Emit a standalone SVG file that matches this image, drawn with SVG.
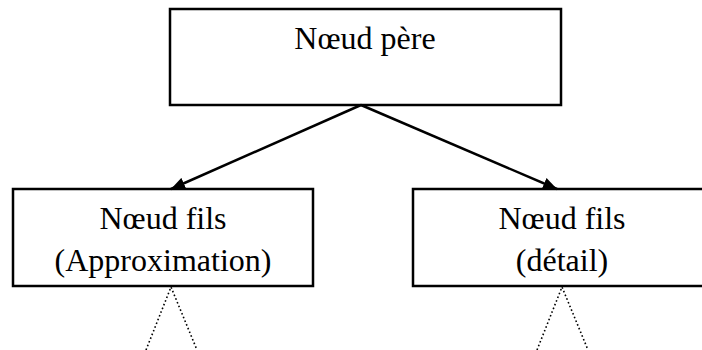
<svg xmlns="http://www.w3.org/2000/svg" width="702" height="350" viewBox="0 0 702 350">
  <style>
    .box { fill: #ffffff; stroke: #000000; stroke-width: 2.5; }
    .label { font-family: "Liberation Serif", "Times New Roman", serif; font-size: 32px; fill: #000000; text-anchor: middle; }
    .edge { stroke: #000000; stroke-width: 2.5; fill: none; }
    .hint { stroke: #000000; stroke-width: 1.6; fill: none; stroke-dasharray: 1.6 2.4; }
  </style>
  <defs>
    <marker id="arrow" viewBox="0 0 14 12" refX="14" refY="6" markerWidth="14" markerHeight="12" markerUnits="userSpaceOnUse" orient="auto">
      <path d="M0,0 L14,6 L0,12 Z" fill="#000000"/>
    </marker>
  </defs>
  <rect width="702" height="350" fill="#ffffff"/>

  <g id="node-parent">
    <rect class="box" x="170" y="9" width="391" height="96"/>
    <text class="label" x="365" y="49">Nœud père</text>
  </g>

  <g id="node-approximation">
    <rect class="box" x="13" y="189" width="300" height="97"/>
    <text class="label" x="163" y="229">Nœud fils</text>
    <text class="label" x="163" y="271">(Approximation)</text>
  </g>

  <g id="node-detail">
    <rect class="box" x="413" y="189" width="300" height="97"/>
    <text class="label" x="562" y="229">Nœud fils</text>
    <text class="label" x="562" y="271">(détail)</text>
  </g>

  <g id="connectors">
    <line class="edge" x1="361" y1="105" x2="171" y2="189" marker-end="url(#arrow)"/>
    <line class="edge" x1="361" y1="105" x2="557" y2="189" marker-end="url(#arrow)"/>
    <polyline class="hint" points="146,350 171,287 197,350"/>
    <polyline class="hint" points="537,350 562,287 588,350"/>
  </g>
</svg>
